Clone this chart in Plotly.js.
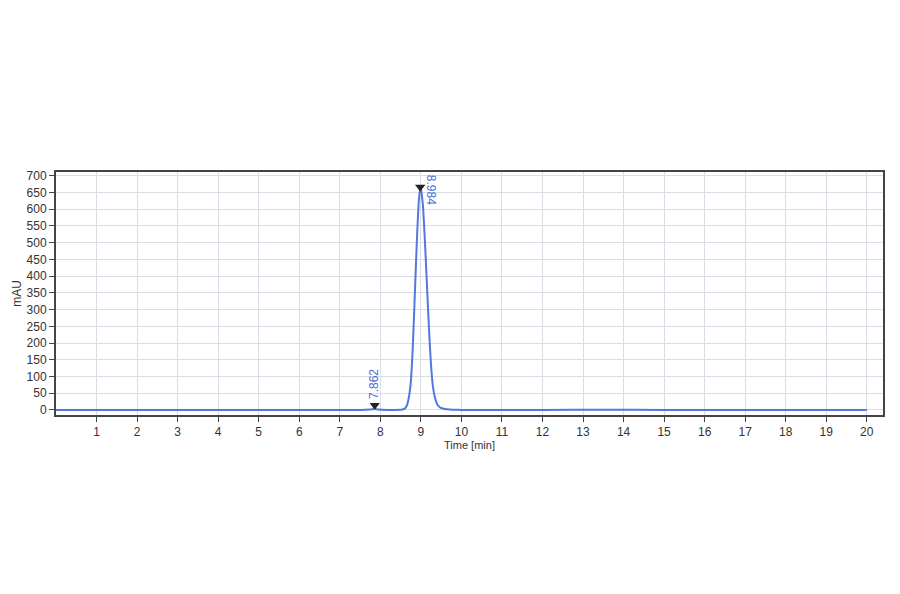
<!DOCTYPE html>
<html>
<head>
<meta charset="utf-8">
<script src="https://cdn.plot.ly/plotly-3.0.1.min.js"></script>
<style>
  html, body { margin: 0; padding: 0; background: #fff; }
  #plot { width: 900px; height: 594px; }
</style>
</head>
<body>
<div id="plot"></div>
<script>
// chromatogram (time in min, signal in mAU)
var time = [0, 2, 4, 6, 7.5, 7.75, 7.862, 7.95, 8.2, 8.5, 8.55, 8.6, 8.65, 8.7, 8.75, 8.8, 8.85, 8.9, 8.95, 8.984,
            9.0, 9.05, 9.1, 9.15, 9.2, 9.25, 9.3, 9.35, 9.4, 9.45, 9.5, 9.6, 9.7, 9.8, 10, 12, 13.5, 15, 17, 20];
var signal = [0, 0, 0, 0, 0.2, 1.5, 3, 1.5, 0.3, 0.5, 1.5, 4, 12, 35, 80, 185, 340, 500, 625, 662,
              660, 612, 505, 375, 245, 135, 68, 36, 18, 10, 6, 3, 1.5, 0.8, 0.3, 0, 0.8, 0, 0, 0];

var peakTimes = [7.862, 8.984];
var peakHeights = [14, 666];
var peakLabels = ['7.862', '8.984'];

var xTicks = [1, 2, 3, 4, 5, 6, 7, 8, 9, 10, 11, 12, 13, 14, 15, 16, 17, 18, 19, 20];
var yTicks = [0, 50, 100, 150, 200, 250, 300, 350, 400, 450, 500, 550, 600, 650, 700];

var blue = '#5577dd';
var labelBlue = '#4a6cd4';

var trace = {
  x: time,
  y: signal,
  type: 'scatter',
  mode: 'lines',
  line: {color: blue, width: 2, shape: 'spline', smoothing: 0.6},
  hoverinfo: 'skip'
};

var marks = {
  x: peakTimes,
  y: peakHeights,
  type: 'scatter',
  mode: 'markers',
  marker: {symbol: 'triangle-down', size: 9, color: '#222'},
  hoverinfo: 'skip'
};

var layout = {
  width: 900,
  height: 594,
  showlegend: false,
  paper_bgcolor: '#fff',
  plot_bgcolor: '#fff',
  margin: {l: 56, r: 17, t: 172, b: 179},
  font: {family: 'Liberation Sans, Arial, sans-serif', size: 12, color: '#333'},
  xaxis: {
    range: [0, 20.4],
    tickvals: xTicks,
    ticks: 'outside',
    ticklen: 5,
    tickcolor: '#444',
    showline: true,
    linecolor: '#444',
    linewidth: 2,
    mirror: true,
    showgrid: true,
    gridcolor: '#dcdce4',
    zeroline: false,
    title: {text: 'Time [min]', font: {size: 11, color: '#333'}, standoff: 3}
  },
  yaxis: {
    range: [-15, 711],
    tickvals: yTicks,
    ticks: 'outside',
    ticklen: 5,
    tickcolor: '#444',
    showline: true,
    linecolor: '#444',
    linewidth: 2,
    mirror: true,
    showgrid: true,
    gridcolor: '#dcdce4',
    zeroline: false,
    title: {text: 'mAU', font: {size: 12, color: '#333'}, standoff: 2}
  },
  annotations: [
    {
      x: peakTimes[0], y: peakHeights[0], text: peakLabels[0],
      textangle: -90, showarrow: false,
      xanchor: 'center', yanchor: 'bottom', yshift: 4,
      font: {size: 12, color: labelBlue}
    },
    {
      x: peakTimes[1], y: 708, text: peakLabels[1],
      textangle: 90, showarrow: false,
      xanchor: 'left', yanchor: 'top', xshift: 2,
      font: {size: 12, color: labelBlue}
    }
  ]
};

Plotly.newPlot('plot', [trace, marks], layout, {displayModeBar: false, staticPlot: true});
</script>
</body>
</html>
